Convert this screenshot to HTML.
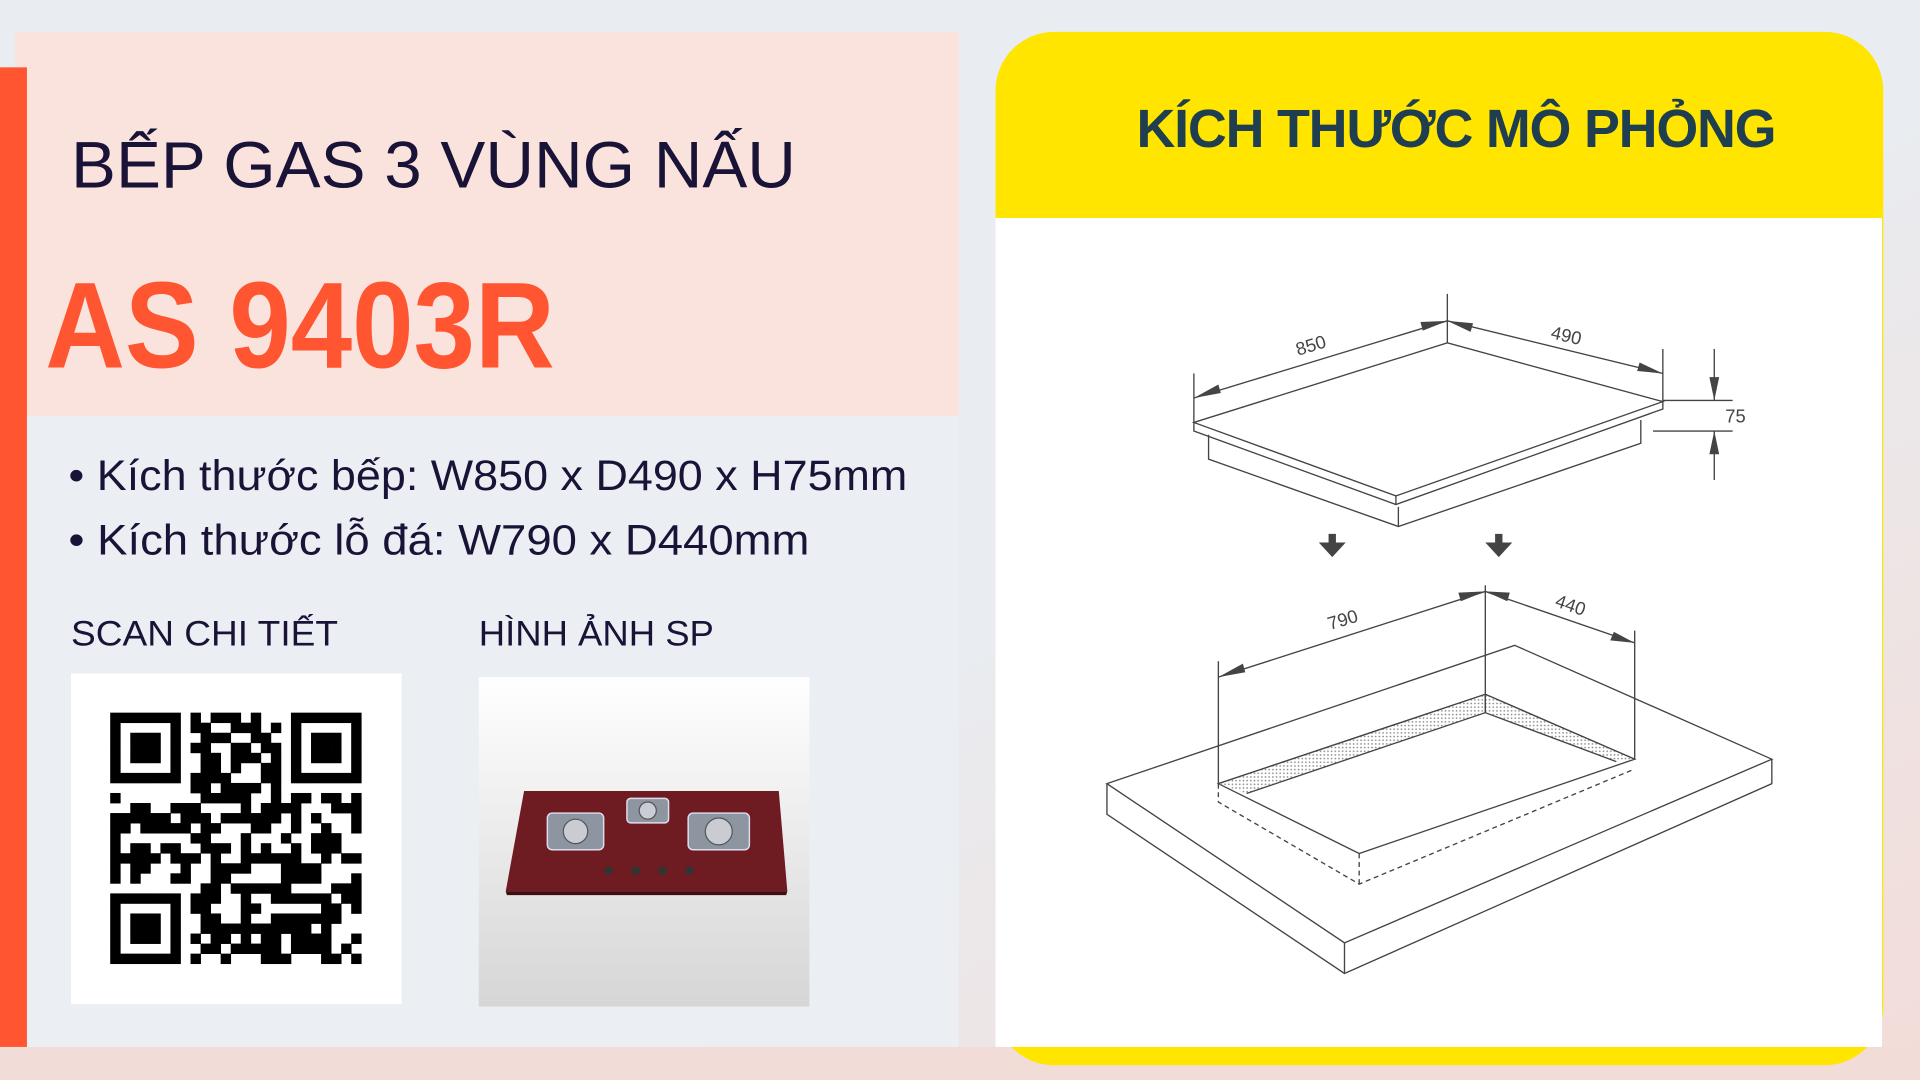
<!DOCTYPE html>
<html><head><meta charset="utf-8"><style>
html,body{margin:0;padding:0;width:1920px;height:1080px;overflow:hidden;background:#e9ecf0}
svg{display:block}
text{font-family:"Liberation Sans","DejaVu Sans",sans-serif}
</style></head><body>
<svg id="s" width="1920" height="1080" viewBox="0 0 1568 882" xmlns="http://www.w3.org/2000/svg">
<defs>
<linearGradient id="bg" x1="0" y1="0" x2="1" y2="1">
<stop offset="0.55" stop-color="#e9ecf0"/><stop offset="1" stop-color="#f3dcd8"/></linearGradient>
<linearGradient id="pg" x1="0" y1="0" x2="0" y2="1">
<stop offset="0" stop-color="#ffffff"/><stop offset="1" stop-color="#d6d6d6"/></linearGradient>
<pattern id="dots" width="3" height="3" patternUnits="userSpaceOnUse"><rect width="3" height="3" fill="#fff"/><circle cx="1.5" cy="1.5" r="0.7" fill="#888"/></pattern>
</defs>
<rect width="1568" height="882" fill="url(#bg)"/>
<rect x="0" y="855" width="1568" height="27" fill="#f1dcd8"/>
<rect x="12" y="26" width="771" height="314" fill="#fbe3dd"/>
<rect x="22" y="340" width="761" height="515" fill="#ebeef2"/>
<rect x="0" y="55" width="22" height="800" fill="#ff5530"/>
<text x="58" y="153" font-size="54" fill="#1a1338" textLength="592" lengthAdjust="spacingAndGlyphs">BẾP GAS 3 VÙNG NẤU</text>
<text x="37" y="300" font-size="100" font-weight="bold" fill="#ff5530" textLength="416" lengthAdjust="spacingAndGlyphs">AS 9403R</text>
<text x="56" y="400" font-size="35" fill="#1a1338" textLength="685" lengthAdjust="spacingAndGlyphs">• Kích thước bếp: W850 x D490 x H75mm</text>
<text x="56" y="453" font-size="35" fill="#1a1338" textLength="605" lengthAdjust="spacingAndGlyphs">• Kích thước lỗ đá: W790 x D440mm</text>
<text x="58" y="527" font-size="29" fill="#1a1338" textLength="218" lengthAdjust="spacingAndGlyphs">SCAN CHI TIẾT</text>
<text x="391" y="527" font-size="29" fill="#1a1338" textLength="192" lengthAdjust="spacingAndGlyphs">HÌNH ẢNH SP</text>
<rect x="58" y="550" width="270" height="270" fill="#fff"/>
<g id="qr"></g>
<rect x="391" y="553" width="270" height="269" fill="url(#pg)"/>
<polygon points="428,646 636,646 643,728 413,728" fill="#6e1b22"/>
<polygon points="413,728 643,728 642,731 414,731" fill="#3e0e12"/>
<g fill="#8d95a0" stroke="#dde" stroke-width="1.2">
<rect x="447" y="664" width="46" height="30" rx="4"/><rect x="512" y="652" width="34" height="20" rx="3"/><rect x="562" y="664" width="50" height="30" rx="4"/></g>
<g fill="#c9ccd2" stroke="#555" stroke-width="1"><circle cx="470" cy="679" r="10"/><circle cx="529" cy="662" r="7"/><circle cx="587" cy="679" r="11"/></g>
<g fill="#333"><circle cx="497" cy="711" r="3.5"/><circle cx="519" cy="711" r="3.5"/><circle cx="541" cy="711" r="3.5"/><circle cx="563" cy="711" r="3.5"/></g>
<rect x="813" y="26" width="725" height="844" rx="48" fill="#ffe500"/>
<rect x="813" y="178" width="724" height="677" fill="#fff"/>
<text x="1189" y="120" font-size="44" font-weight="bold" fill="#1f3f50" text-anchor="middle" letter-spacing="-1">KÍCH THƯỚC MÔ PHỎNG</text>
<g fill="none" stroke="#444" stroke-width="1.1">
<polygon points="975,345 1182,280 1358,328 1140,405" fill="#fff"/>
<polyline points="975,345 975,352 1140,412 1358,334 1358,328"/>
<line x1="1140" y1="405" x2="1140" y2="412"/>
<polyline points="987,355 987,375 1142,430 1340,362 1340,343"/>
<line x1="1142" y1="414" x2="1142" y2="430"/>
<line x1="975" y1="305" x2="975" y2="345"/>
<line x1="1182" y1="240" x2="1182" y2="280"/>
<line x1="1358" y1="285" x2="1358" y2="328"/>
<line x1="975" y1="325" x2="1182" y2="262"/>
<line x1="1182" y1="262" x2="1358" y2="305"/>
<line x1="1358" y1="327" x2="1415" y2="327"/>
<line x1="1350" y1="352" x2="1415" y2="352"/>
<line x1="1400" y1="285" x2="1400" y2="327"/>
<line x1="1400" y1="352" x2="1400" y2="392"/>
<polygon points="904,640 1237,527 1447,620 1098,770" fill="#fff"/>
<polyline points="904,640 904,665 1098,795 1447,640 1447,620"/>
<line x1="1098" y1="770" x2="1098" y2="795"/>
<polygon points="995,640 1213,567 1335,620 1110,697" fill="#fff"/>
<polygon points="995,640 1213,567 1335,620 1320,622 1213,582 1018,648" fill="url(#dots)" stroke="none"/>
<polyline points="995,640 1213,567 1335,620"/>
<polyline points="1018,648 1213,582 1320,622"/>
<line x1="1213" y1="567" x2="1213" y2="582"/>
<polyline points="995,640 995,655 1110,722 1335,628" stroke-dasharray="4,3"/>
<line x1="1110" y1="697" x2="1110" y2="722" stroke-dasharray="4,3"/>
<line x1="995" y1="540" x2="995" y2="640"/>
<line x1="1213" y1="478" x2="1213" y2="582"/>
<line x1="1335" y1="515" x2="1335" y2="620"/>
<line x1="995" y1="553" x2="1213" y2="483"/>
<line x1="1213" y1="483" x2="1335" y2="525"/>
</g>
<g fill="#444">
<polygon points="975,325 995,314 997,321"/><polygon points="1182,262 1162,270 1160,263"/>
<polygon points="1182,262 1203,264 1201,271"/><polygon points="1358,305 1337,303 1339,296"/>
<polygon points="1400,327 1396,308 1404,308"/><polygon points="1400,352 1396,371 1404,371"/>
<polygon points="995,553 1015,542 1017,549"/><polygon points="1213,483 1193,491 1191,484"/>
<polygon points="1213,483 1233,484 1231,491"/><polygon points="1335,525 1315,523 1318,516"/>
<polygon points="1077,443 1099,443 1088,455"/><rect x="1085" y="436" width="6" height="8"/>
<polygon points="1213,443 1235,443 1224,455"/><rect x="1221" y="436" width="6" height="8"/>
</g>
<g font-size="15" fill="#444">
<text x="1072" y="287" text-anchor="middle" transform="rotate(-17 1072 287)">850</text>
<text x="1278" y="279" text-anchor="middle" transform="rotate(13 1278 279)">490</text>
<text x="1409" y="345">75</text>
<text x="1098" y="511" text-anchor="middle" transform="rotate(-17 1098 511)">790</text>
<text x="1281" y="499" text-anchor="middle" transform="rotate(19 1281 499)">440</text>
</g>
</svg>
<script>
(function(){
var g=document.getElementById('qr'),N=25,x0=90,y0=582,m=8.2,s='';
var seed=7;function r(){seed=(seed*9301+49297)%233280;return seed/233280;}
function fin(i,j,a,b){var di=i-a,dj=j-b;if(di<0||dj<0||di>6||dj>6)return -1;
if(di==0||di==6||dj==0||dj==6)return 1;if(di>=2&&di<=4&&dj>=2&&dj<=4)return 1;return 0;}
for(var i=0;i<N;i++)for(var j=0;j<N;j++){
var v=-1;[[0,0],[0,18],[18,0]].forEach(function(p){var f=fin(i,j,p[0],p[1]);if(f>=0)v=f;});
if(v<0){if((i==7&&j<8)||(j==7&&i<8)||(i==7&&j>16)||(j==17&&i<8)||(i==17&&j<8)||(j==7&&i>16))v=0;else v=r()<0.5?1:0;}
if(v)s+='<rect x="'+(x0+j*m)+'" y="'+(y0+i*m)+'" width="'+(m+0.3)+'" height="'+(m+0.3)+'" fill="#000"/>';}
g.innerHTML=s;})();
</script>
</body></html>
